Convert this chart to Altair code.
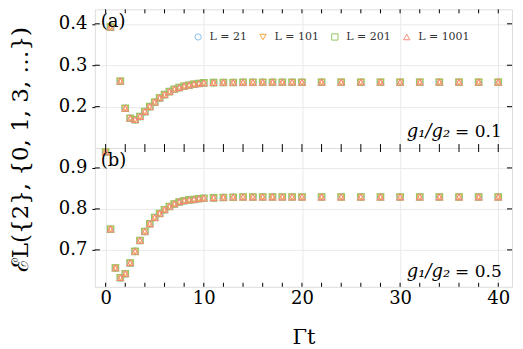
import altair as alt
import pandas as pd

# ---------------- data ----------------
L_labels = ["L = 21", "L = 101", "L = 201", "L = 1001"]
L_colors = ["#86c3ea", "#f4a640", "#94c866", "#f4897a"]
L_shapes = ["circle", "triangle-down", "square", "triangle-up"]

# panel (a): g1/g2 = 0.1
top_t = [0.5, 1.5, 2, 2.5, 3, 3.5, 4, 4.5, 5, 5.5, 6, 6.5, 7, 7.5, 8, 8.5, 9, 9.5, 10,
         11, 12, 13, 14, 15, 16, 17, 18, 19, 20, 22, 24, 26, 28, 30, 32, 34, 36, 38, 40]
top_v = [0.392, 0.2615, 0.196, 0.172, 0.1685, 0.176, 0.188, 0.200, 0.2107, 0.221, 0.229,
         0.2363, 0.242, 0.246, 0.2494, 0.2518, 0.2542, 0.2557, 0.2574,
         0.2580, 0.2583, 0.2585, 0.2587, 0.2588, 0.2589, 0.2589, 0.2589, 0.2589, 0.2589,
         0.2590, 0.2590, 0.2590, 0.2590, 0.2590, 0.2590, 0.2590, 0.2590, 0.2590, 0.2590]

# panel (b): g1/g2 = 0.5
bot_t = [0, 0.5, 1, 1.5, 2, 2.5, 3, 3.5, 4, 4.5, 5, 5.5, 6, 6.5, 7, 7.5, 8, 8.5, 9, 9.5, 10,
         11, 12, 13, 14, 15, 16, 17, 18, 19, 20, 22, 24, 26, 28, 30, 32, 34, 36, 38, 40]
bot_v = [0.939, 0.7505, 0.656, 0.632, 0.642, 0.668, 0.6964, 0.723, 0.745, 0.7636, 0.779,
         0.789, 0.798, 0.806, 0.812, 0.817, 0.820, 0.822, 0.823, 0.825, 0.826,
         0.827, 0.828, 0.8285, 0.829, 0.829, 0.829, 0.829, 0.829, 0.829, 0.829,
         0.829, 0.829, 0.829, 0.829, 0.829, 0.829, 0.829, 0.829, 0.829, 0.829]

x_major = [0, 10, 20, 30, 40]
x_minor = [2, 4, 6, 8, 12, 14, 16, 18, 22, 24, 26, 28, 32, 34, 36, 38]
top_yticks = [0.2, 0.3, 0.4]
bot_yticks = [0.7, 0.8, 0.9]

W = 418
H1 = 139
H2 = 139
FONT = "DejaVu Serif"
XDOM = [-1.1, 41.4]


def series_frame(ts, vs):
    rows = []
    for k, lab in enumerate(L_labels):
        for t, v in zip(ts, vs):
            rows.append({"t": t, "v": v, "L": lab, "k": k})
    return pd.DataFrame(rows)


def panel(ts, vs, ydom, yticks, H, bottom, tag, gval, legend, ytitle, gy):
    df = series_frame(ts, vs)
    xscale = alt.Scale(domain=XDOM, nice=False, zero=False)
    yscale = alt.Scale(domain=ydom, nice=False, zero=False)

    if bottom:
        xaxis = alt.Axis(values=x_major, grid=True, gridColor="#e9e9e9", domain=False,
                         ticks=False, labelFont=FONT, labelFontSize=18, labelColor="black",
                         labelPadding=3, title="Γt", titleFont=FONT, titleFontSize=21,
                         titleFontWeight="normal", titleColor="black", titlePadding=19)
    else:
        xaxis = alt.Axis(values=x_major, grid=True, gridColor="#e9e9e9", domain=False,
                         ticks=False, labels=False, title=None)

    yaxis_kw = dict(values=yticks, grid=True, gridColor="#e9e9e9", domain=False,
                    ticks=True, tickSize=3, tickColor="black", labelFont=FONT,
                    labelFontSize=18, labelColor="black", labelPadding=5, format=".1f")
    if ytitle:
        yaxis = alt.Axis(title=ytitle, titleFont=FONT, titleFontSize=23,
                         titleFontWeight="normal", titleColor="black", titlePadding=26,
                         titleY=H + 1, titleAlign="center", **yaxis_kw)
    else:
        yaxis = alt.Axis(title=None, **yaxis_kw)

    if legend:
        leg = alt.Legend(orient="none", legendX=98, legendY=22, direction="horizontal",
                         title=None, labelFont=FONT, labelFontSize=11, labelColor="#333333",
                         symbolSize=40, symbolStrokeWidth=1, columnPadding=10,
                         labelOffset=6, symbolType="circle")
    else:
        leg = None

    points = alt.Chart(df).mark_point(filled=False, size=42, strokeWidth=1.1, opacity=1).encode(
        x=alt.X("t:Q", scale=xscale, axis=xaxis),
        y=alt.Y("v:Q", scale=yscale, axis=yaxis),
        color=alt.Color("L:N", scale=alt.Scale(domain=L_labels, range=L_colors), legend=leg),
        shape=alt.Shape("L:N", scale=alt.Scale(domain=L_labels, range=L_shapes), legend=leg),
        order=alt.Order("k:Q"),
    )

    tk = pd.DataFrame({"t": x_major + x_minor})
    tick_b = alt.Chart(tk).mark_rule(color="black", strokeWidth=1).encode(
        x=alt.X("t:Q", scale=xscale), y=alt.value(H), y2=alt.value(H - 4))
    tick_t = alt.Chart(tk).mark_rule(color="black", strokeWidth=1).encode(
        x=alt.X("t:Q", scale=xscale), y=alt.value(0), y2=alt.value(4))
    ytk = pd.DataFrame({"v": yticks})
    tick_l = alt.Chart(ytk).mark_rule(color="black", strokeWidth=1).encode(
        y=alt.Y("v:Q", scale=yscale), x=alt.value(0), x2=alt.value(5))
    tick_r = alt.Chart(ytk).mark_rule(color="black", strokeWidth=1).encode(
        y=alt.Y("v:Q", scale=yscale), x=alt.value(W), x2=alt.value(W - 5))

    tagtxt = alt.Chart(pd.DataFrame({"s": [tag]})).mark_text(
        font=FONT, fontSize=18, align="left", baseline="middle", color="black").encode(
        text="s:N", x=alt.value(6), y=alt.value(13))
    g_txt = alt.Chart(pd.DataFrame({"s": ["g₁/g₂"]})).mark_text(
        font=FONT, fontSize=18, fontStyle="italic", align="right", baseline="alphabetic",
        color="black").encode(text="s:N", x=alt.value(356), y=alt.value(gy))
    v_txt = alt.Chart(pd.DataFrame({"s": ["= " + gval]})).mark_text(
        font=FONT, fontSize=17, align="left", baseline="alphabetic", color="black").encode(
        text="s:N", x=alt.value(361), y=alt.value(gy))

    return alt.layer(points, tick_b, tick_t, tick_l, tick_r, tagtxt, g_txt, v_txt).properties(
        width=W, height=H)


top = panel(top_t, top_v, [0.1, 0.435], top_yticks, H1, False, "(a)", "0.1", True,
            "ℰL({2}, {0, 1, 3, …})", H1 - 11)
bot = panel(bot_t, bot_v, [0.61, 0.9485], bot_yticks, H2, True, "(b)", "0.5", False, None,
            H2 - 10)

chart = alt.vconcat(top, bot, spacing=0, bounds="flush").resolve_scale(
    color="independent", shape="independent", x="shared"
).properties(
    padding={"left": 0, "top": 0, "right": 2, "bottom": 0}
).configure_view(
    stroke="black", strokeWidth=2
).configure(background="white", font=FONT)

chart.save("out.html", embed_options={"renderer": "svg", "actions": False})
